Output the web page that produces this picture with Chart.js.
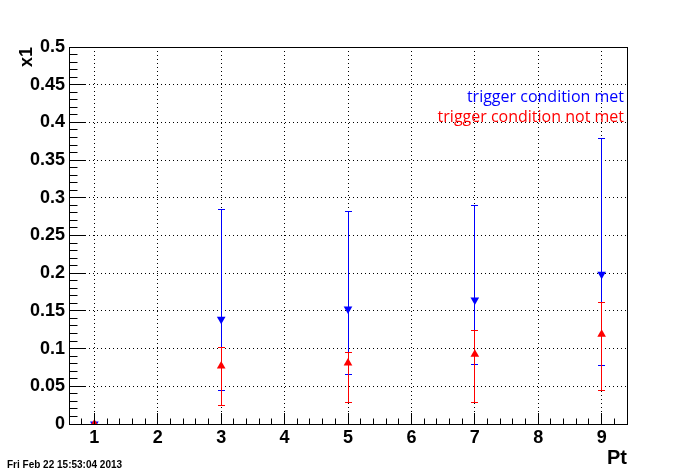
<!DOCTYPE html>
<html lang="en">
<head>
    <meta charset="UTF-8">
    <title>x1 vs Pt</title>
    <script src="https://cdn.jsdelivr.net/npm/chart.js"></script>
    <style>
        body { margin: 0; background: #fff; }
    </style>
</head>
<body>
    <canvas id="grafico" width="696" height="472"></canvas>
<script>
    // Pt bins and x1 values
    const ptValues = [1, 3, 5, 7, 9]

    const metValues = [0, 0.139, 0.1525, 0.1645, 0.1985]
    const metLow = [0, 0.045, 0.065, 0.079, 0.078]
    const metHigh = [0, 0.284, 0.282, 0.290, 0.379]

    const notMetValues = [0, 0.077, 0.081, 0.0925, 0.119]
    const notMetLow = [0, 0.025, 0.029, 0.028, 0.045]
    const notMetHigh = [0, 0.102, 0.095, 0.124, 0.161]

    const xTicks = [1, 2, 3, 4, 5, 6, 7, 8, 9]
    const yTicks = [0, 0.05, 0.1, 0.15, 0.2, 0.25, 0.3, 0.35, 0.4, 0.45, 0.5]
    const yTickLabels = ['0', '0.05', '0.1', '0.15', '0.2', '0.25', '0.3', '0.35', '0.4', '0.45', '0.5']

    const labelFont = { family: 'Liberation Sans', weight: 'bold', size: 18 }

    function pontos(valores) {
        return ptValues.map((x, i) => ({ x: x, y: valores[i] }))
    }

    function alinhar(p) {
        return Math.floor(p) + 0.5
    }

    // vertical dotted grid, then the error bars over it (markers come after)
    const barrasErro = {
        id: 'barrasErro',
        beforeDatasetsDraw(chart) {
            const ctx = chart.ctx
            const sx = chart.scales.x
            const sy = chart.scales.y
            const a = chart.chartArea
            ctx.save()
            ctx.beginPath()
            ctx.rect(a.left, a.top, a.right - a.left, a.bottom - a.top)
            ctx.clip()
            ctx.lineWidth = 1

            ctx.strokeStyle = '#000'
            ctx.setLineDash([1, 3])
            ctx.beginPath()
            xTicks.forEach(v => {
                const px = alinhar(sx.getPixelForValue(v))
                ctx.moveTo(px, a.bottom)
                ctx.lineTo(px, a.top)
            })
            ctx.stroke()

            ctx.setLineDash([])
            const series = [
                { cor: '#0000ff', low: metLow, high: metHigh },
                { cor: '#ff0000', low: notMetLow, high: notMetHigh }
            ]
            series.forEach(s => {
                ctx.strokeStyle = s.cor
                for (let i = 0; i < ptValues.length; i++) {
                    if (s.high[i] === s.low[i]) continue
                    const px = alinhar(sx.getPixelForValue(ptValues[i]))
                    const yl = alinhar(sy.getPixelForValue(s.low[i]))
                    const yh = alinhar(sy.getPixelForValue(s.high[i]))
                    ctx.beginPath()
                    ctx.moveTo(px, yl)
                    ctx.lineTo(px, yh)
                    ctx.moveTo(px - 3.5, yl)
                    ctx.lineTo(px + 3.5, yl)
                    ctx.moveTo(px - 3.5, yh)
                    ctx.lineTo(px + 3.5, yh)
                    ctx.stroke()
                }
            })
            ctx.restore()
        }
    }

    // frame, inward ticks and the loose texts
    const moldura = {
        id: 'moldura',
        afterDraw(chart) {
            const ctx = chart.ctx
            const sx = chart.scales.x
            const sy = chart.scales.y
            const a = chart.chartArea
            ctx.save()
            ctx.setLineDash([])
            ctx.strokeStyle = '#000'
            ctx.lineWidth = 1
            ctx.strokeRect(a.left + 0.5, a.top + 0.5, a.right - a.left, a.bottom - a.top)

            ctx.beginPath()
            for (let k = 3; k <= 47; k++) {
                const px = alinhar(sx.getPixelForValue(k * 0.2))
                const len = k % 5 === 0 ? 11 : 5.5
                ctx.moveTo(px, a.bottom)
                ctx.lineTo(px, a.bottom - len)
            }
            for (let k = 0; k <= 50; k++) {
                const py = alinhar(sy.getPixelForValue(k * 0.01))
                const len = k % 5 === 0 ? 17 : 8.5
                ctx.moveTo(a.left, py)
                ctx.lineTo(a.left + len, py)
            }
            ctx.stroke()

            ctx.textAlign = 'right'
            ctx.textBaseline = 'alphabetic'
            ctx.font = '16px "Open Sans"'
            ctx.fillStyle = '#0000ff'
            ctx.fillText('trigger condition met', 624, 102)
            ctx.fillStyle = '#ff0000'
            ctx.fillText('trigger condition not met', 624, 122)

            ctx.textAlign = 'left'
            ctx.fillStyle = '#000'
            ctx.font = 'bold 10px "Liberation Sans"'
            ctx.fillText('Fri Feb 22 15:53:04 2013', 7, 468)
            ctx.restore()
        }
    }

    new Chart(
        grafico,
        {
            type: 'scatter',
            data: {
                datasets: [{
                    label: 'trigger condition not met',
                    data: pontos(notMetValues),
                    pointStyle: 'triangle',
                    pointRadius: 5,
                    borderWidth: 0,
                    backgroundColor: '#ff0000',
                    borderColor: '#ff0000'
                },
                {
                    label: 'trigger condition met',
                    data: pontos(metValues),
                    pointStyle: 'triangle',
                    pointRotation: 180,
                    pointRadius: 5,
                    borderWidth: 0,
                    backgroundColor: '#0000ff',
                    borderColor: '#0000ff'
                }]
            },
            options: {
                responsive: false,
                animation: false,
                layout: { padding: { left: 0, top: 47, right: 69, bottom: 0 } },
                plugins: {
                    legend: { display: false },
                    tooltip: { enabled: false }
                },
                scales: {
                    x: {
                        type: 'linear',
                        min: 0.6,
                        max: 9.4,
                        afterBuildTicks: s => { s.ticks = xTicks.map(v => ({ value: v })) },
                        afterFit: s => { s.height = 48 },
                        grid: { drawOnChartArea: false, drawTicks: false },
                        border: { display: false },
                        ticks: { padding: 3, color: '#000', font: labelFont, maxRotation: 0, autoSkip: false },
                        title: {
                            display: true, text: 'Pt', align: 'end', color: '#000',
                            font: { family: 'Liberation Sans', weight: 'bold', size: 20 },
                            padding: { top: 0, bottom: 2 }
                        }
                    },
                    y: {
                        min: 0,
                        max: 0.5,
                        afterBuildTicks: s => { s.ticks = yTicks.map(v => ({ value: v })) },
                        afterFit: s => { s.width = 69 },
                        grid: { color: '#000', lineWidth: 1, drawTicks: false },
                        border: { display: false, dash: [1, 3] },
                        ticks: {
                            padding: 4, color: '#000', font: labelFont, autoSkip: false,
                            callback: (v, i) => yTickLabels[i]
                        },
                        title: {
                            display: true, text: 'x1', align: 'end', color: '#000',
                            font: { family: 'Liberation Sans', weight: 'bold', size: 18 },
                            padding: { top: 16, bottom: 0 }
                        }
                    }
                }
            },
            plugins: [barrasErro, moldura]
        }
    )
</script>
</body>
</html>
